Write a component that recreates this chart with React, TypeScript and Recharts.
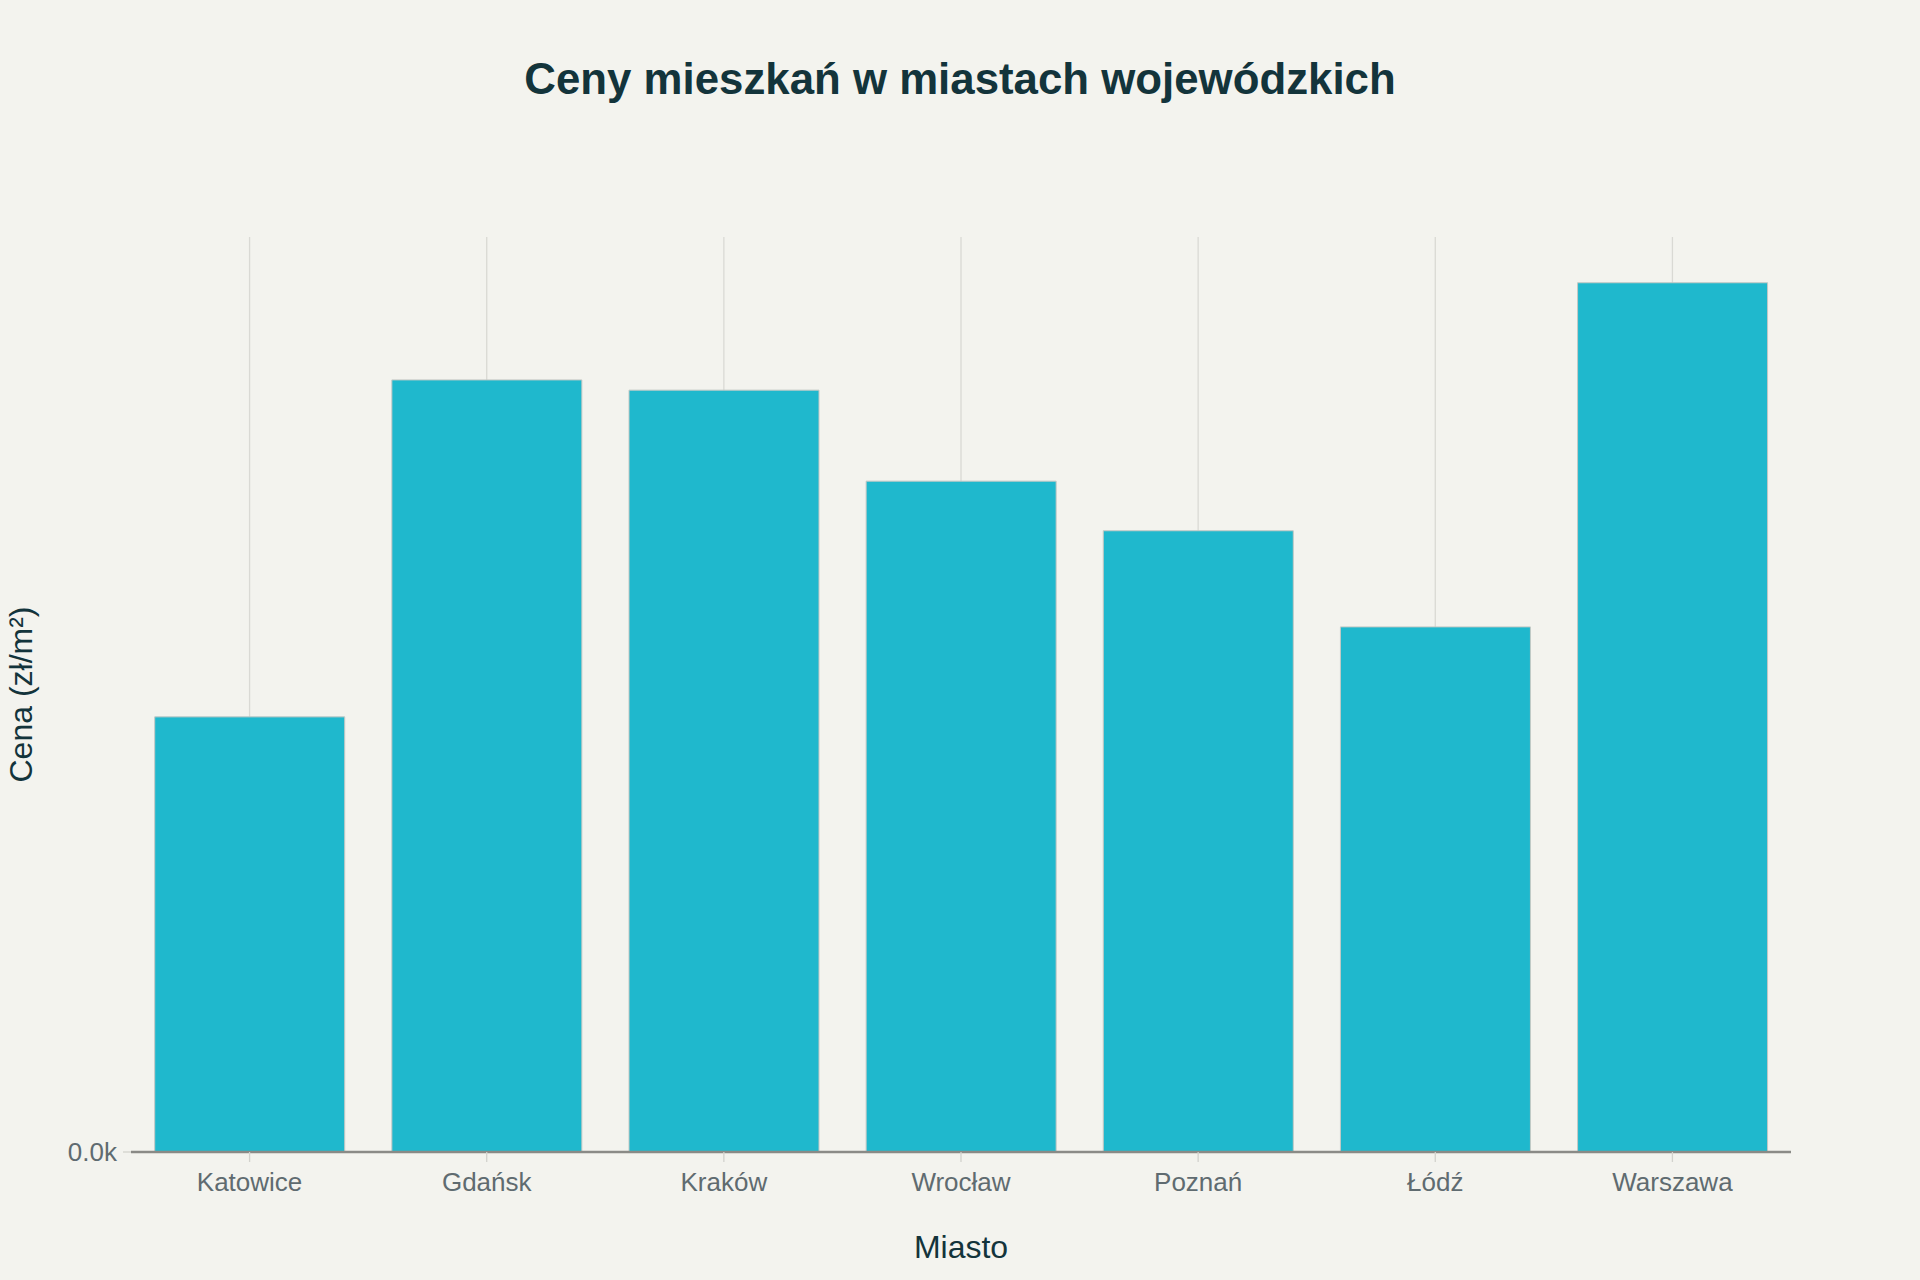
import React from 'react';
import { BarChart, Bar, XAxis, YAxis, CartesianGrid, Label } from 'recharts';

const cities = ['Katowice', 'Gdańsk', 'Kraków', 'Wrocław', 'Poznań', 'Łódź', 'Warszawa'];
const prices = [8510, 15100, 14900, 13120, 12150, 10270, 17000];
const yTicks = [0];
const yMax = 17895;

const title = 'Ceny mieszkań w miastach wojewódzkich';
const xTitle = 'Miasto';
const yTitle = 'Cena (zł/m²)';

const data = cities.map((c, i) => ({ city: c, price: prices[i] }));

const FONT = '"Liberation Sans", Arial, Helvetica, sans-serif';
const BG = '#F3F3EE';
const DARK = '#13343B';

export default function App() {
  return (
    <div
      style={{
        position: 'absolute',
        left: 0,
        top: 0,
        width: 1920,
        height: 1280,
        background: BG,
        fontFamily: FONT,
        overflow: 'hidden',
      }}
    >
      <div
        style={{
          position: 'absolute',
          left: 0,
          top: 57,
          width: 1920,
          textAlign: 'center',
          fontSize: 43.8,
          lineHeight: '44px',
          fontWeight: 700,
          color: DARK,
        }}
      >
        {title}
      </div>
      <div style={{ position: 'absolute', left: 0, top: 0 }}>
        <BarChart
          width={1920}
          height={1280}
          data={data}
          margin={{ top: 237, right: 129, left: 0, bottom: 0 }}
        >
          <CartesianGrid
            vertical={true}
            horizontal={false}
            stroke="#D9D9D4"
            strokeWidth={1.3}
            syncWithTicks={true}
          />
          <XAxis
            dataKey="city"
            height={128}
            axisLine={{ stroke: '#8A8A86', strokeWidth: 2.5 }}
            tickLine={{ stroke: '#D2D2CD', strokeWidth: 1.3 }}
            tickSize={10}
            tickMargin={11}
            tick={{ fontSize: 26, fill: '#5F6B70', fontFamily: FONT }}
            interval={0}
          >
            <Label
              value={xTitle}
              position="insideBottom"
              offset={22}
              style={{ fontSize: 32, fill: DARK, fontFamily: FONT }}
            />
          </XAxis>
          <YAxis
            width={131}
            domain={[0, yMax]}
            ticks={yTicks}
            axisLine={false}
            tickLine={{ stroke: '#D2D2CD', strokeWidth: 1.3 }}
            tickSize={8}
            tickMargin={6}
            tickFormatter={(v: number) => (v / 1000).toFixed(1) + 'k'}
            tick={{ fontSize: 26, fill: '#5F6B70', fontFamily: FONT }}
          >
            <Label
              value={yTitle}
              angle={-90}
              position="insideLeft"
              offset={21}
              style={{ fontSize: 32, fill: DARK, fontFamily: FONT, textAnchor: 'middle' }}
            />
          </YAxis>
          <Bar
            dataKey="price"
            fill="#1FB8CD"
            stroke="#C4C8C4"
            strokeWidth={1}
            isAnimationActive={false}
          />
        </BarChart>
      </div>
    </div>
  );
}
